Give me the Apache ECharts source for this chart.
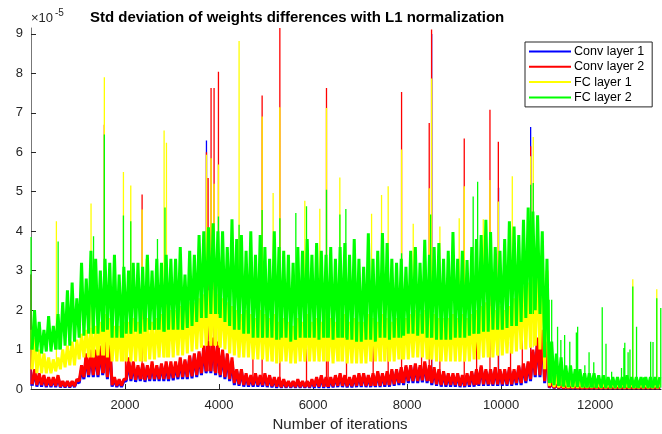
<!DOCTYPE html>
<html>
<head>
<meta charset="utf-8">
<script src="https://cdn.jsdelivr.net/npm/echarts@6/dist/echarts.min.js"></script>
<style>html,body{margin:0;padding:0;background:#fff}#c{width:662px;height:434px}</style>
</head>
<body>
<div id="c"></div>
<script>
// ---- data, values in units of 1e-5 ----
// dense band per 100-iteration bin: upper (hi) and lower (lo) extent
const binStep = 100;
const xTicks = [2000, 4000, 6000, 8000, 10000, 12000];
const yTicks = [0, 1, 2, 3, 4, 5, 6, 7, 8, 9];
const seriesNames = ['Conv layer 1', 'Conv layer 2', 'FC layer 1', 'FC layer 2'];

const conv1Hi = [0.45,0.35,0.3,0.25,0.25,0.3,0.18,0.18,0.18,0.2, 0.5,0.8,0.9,0.9,1.0,1.2,1.1,0.25,0.2,0.2,
  0.7,0.6,0.55,0.6,0.55,0.6,0.55,0.6,0.6,0.6, 0.6,0.7,0.7,0.8,0.85,0.9,1.0,1.2,1.2,1.1,
  0.9,0.8,0.7,0.45,0.45,0.35,0.3,0.35,0.3,0.35, 0.3,0.25,0.25,0.2,0.18,0.18,0.2,0.18,0.18,0.2,
  0.25,0.3,0.25,0.25,0.3,0.35,0.3,0.25,0.3,0.35, 0.35,0.3,0.35,0.4,0.35,0.4,0.45,0.45,0.5,0.55,
  0.55,0.6,0.55,0.65,0.55,0.5,0.45,0.4,0.35,0.35, 0.35,0.3,0.35,0.4,0.45,0.55,0.45,0.45,0.5,0.45,
  0.45,0.5,0.45,0.55,0.6,0.65,0.95,1.25,1.45,1.1, 0.15,0.1,0.08,0.07,0.06,0.06,0.05,0.05,0.05,0.05,
  0.05,0.05,0.05,0.05,0.05,0.05,0.05,0.05,0.05,0.05,0.05,0.05,0.05,0.05];
const conv1Lo = [0.08,0.06,0.06,0.05,0.05,0.05,0.04,0.04,0.04,0.05, 0.15,0.25,0.3,0.3,0.3,0.35,0.25,0.06,0.05,0.05,
  0.2,0.2,0.18,0.2,0.18,0.2,0.2,0.2,0.2,0.2, 0.22,0.25,0.25,0.25,0.27,0.3,0.35,0.4,0.4,0.35,
  0.3,0.25,0.2,0.1,0.08,0.06,0.06,0.06,0.06,0.06, 0.05,0.04,0.03,0.03,0.03,0.03,0.03,0.03,0.03,0.03,
  0.03,0.03,0.03,0.03,0.04,0.05,0.05,0.04,0.04,0.05, 0.05,0.05,0.05,0.05,0.05,0.06,0.06,0.08,0.1,0.1,
  0.15,0.15,0.15,0.17,0.15,0.1,0.08,0.06,0.06,0.06, 0.06,0.05,0.05,0.06,0.06,0.08,0.08,0.08,0.08,0.08,
  0.08,0.08,0.08,0.1,0.1,0.15,0.2,0.3,0.3,0.15, 0.03,0.02,0.02,0.02,0.02,0.02,0.02,0.02,0.02,0.02,
  0.02,0.02,0.02,0.02,0.02,0.02,0.02,0.02,0.02,0.02,0.02,0.02,0.02,0.02];

const conv2Hi = [0.5,0.4,0.35,0.3,0.3,0.35,0.2,0.2,0.2,0.25, 0.6,0.9,1.0,1.0,1.1,1.3,1.2,0.3,0.25,0.25,
  0.8,0.7,0.6,0.65,0.6,0.7,0.6,0.65,0.7,0.7, 0.7,0.8,0.75,0.85,0.9,0.95,1.1,1.2,1.3,1.2,
  1.0,0.9,0.8,0.5,0.5,0.4,0.35,0.4,0.35,0.4, 0.35,0.3,0.3,0.25,0.2,0.2,0.25,0.2,0.2,0.25,
  0.3,0.35,0.3,0.3,0.35,0.4,0.35,0.3,0.35,0.4, 0.4,0.35,0.4,0.45,0.4,0.45,0.5,0.5,0.55,0.6,
  0.6,0.65,0.6,0.7,0.6,0.55,0.5,0.45,0.4,0.4, 0.4,0.35,0.4,0.45,0.5,0.6,0.5,0.5,0.55,0.5,
  0.5,0.55,0.5,0.6,0.65,0.7,1.0,1.3,1.5,1.2, 0.2,0.12,0.1,0.08,0.07,0.07,0.06,0.06,0.06,0.06,
  0.05,0.05,0.05,0.05,0.05,0.05,0.05,0.05,0.05,0.05,0.05,0.05,0.05,0.05];
const conv2Lo = [0.12,0.1,0.1,0.08,0.08,0.08,0.06,0.06,0.06,0.07, 0.2,0.3,0.35,0.35,0.35,0.4,0.3,0.1,0.08,0.08,
  0.25,0.25,0.23,0.25,0.23,0.25,0.25,0.25,0.25,0.25, 0.28,0.3,0.3,0.3,0.32,0.35,0.4,0.45,0.45,0.4,
  0.35,0.3,0.25,0.15,0.12,0.1,0.1,0.1,0.1,0.1, 0.08,0.07,0.06,0.05,0.05,0.05,0.05,0.05,0.05,0.05,
  0.06,0.06,0.06,0.06,0.07,0.08,0.08,0.07,0.07,0.08, 0.08,0.08,0.08,0.08,0.08,0.1,0.1,0.12,0.15,0.15,
  0.2,0.2,0.2,0.22,0.2,0.15,0.12,0.1,0.1,0.1, 0.1,0.08,0.08,0.1,0.1,0.12,0.12,0.12,0.12,0.12,
  0.12,0.12,0.12,0.15,0.15,0.2,0.25,0.35,0.35,0.2, 0.04,0.03,0.03,0.02,0.02,0.02,0.02,0.02,0.02,0.02,
  0.02,0.02,0.02,0.02,0.02,0.02,0.02,0.02,0.02,0.02,0.02,0.02,0.02,0.02];

const fc1Hi = [1.3,1.0,0.9,0.8,0.75,0.8,1.0,1.1,1.2,1.25, 1.4,1.5,1.55,1.6,1.7,1.9,1.8,1.6,1.6,1.7,
  1.7,1.8,1.7,1.75,1.8,1.7,1.8,1.9,1.9,2.0, 2.0,2.1,2.0,2.2,2.2,2.3,2.4,2.5,2.5,2.4,
  2.3,2.2,2.1,2.0,1.9,2.0,1.9,1.8,2.0,1.9, 1.8,1.9,1.7,1.8,1.7,1.6,1.8,1.7,1.9,1.7,
  1.8,1.7,1.9,1.8,1.7,1.8,1.9,1.7,1.8,1.7, 1.7,1.9,1.8,1.7,1.9,1.8,1.7,1.8,1.9,1.8,
  1.9,2.0,1.9,2.0,1.8,1.9,1.8,1.8,1.8,1.9, 1.8,1.9,1.8,1.9,2.0,2.1,2.2,2.1,2.0,2.1,
  2.0,2.1,2.3,2.5,2.6,2.7,2.8,3.0,3.4,3.0, 0.6,0.35,0.3,0.25,0.22,0.2,0.2,0.18,0.18,0.18,
  0.15,0.15,0.15,0.15,0.15,0.15,0.15,0.15,0.15,0.15,0.15,0.15,0.15,0.15];
const fc1Lo = [0.5,0.4,0.4,0.4,0.4,0.45,0.5,0.55,0.6,0.6, 0.75,0.8,0.8,0.8,0.85,0.85,0.8,0.7,0.7,0.7,
  0.7,0.7,0.7,0.7,0.7,0.75,0.75,0.8,0.8,0.8, 0.8,0.85,0.85,0.9,0.95,1.0,1.05,1.1,1.1,1.1,
  1.05,1.0,0.9,0.85,0.8,0.8,0.8,0.75,0.75,0.75, 0.7,0.7,0.65,0.7,0.7,0.65,0.65,0.7,0.7,0.7,
  0.7,0.7,0.7,0.7,0.65,0.7,0.7,0.65,0.65,0.65, 0.65,0.65,0.7,0.7,0.7,0.7,0.7,0.7,0.75,0.75,
  0.75,0.8,0.8,0.8,0.75,0.75,0.7,0.7,0.7,0.7, 0.7,0.7,0.7,0.7,0.75,0.75,0.8,0.8,0.8,0.85,
  0.85,0.9,0.9,0.95,1.0,1.0,1.05,1.1,1.0,0.5, 0.08,0.05,0.04,0.04,0.03,0.03,0.03,0.03,0.03,0.03,
  0.03,0.03,0.03,0.03,0.03,0.03,0.03,0.03,0.03,0.03,0.03,0.03,0.03,0.03];

const fc2Hi = [2.0,1.7,1.5,1.85,1.6,1.9,2.2,2.5,2.7,2.3, 3.2,2.8,3.5,3.3,3.0,3.3,3.2,3.4,2.9,3.1,
  3.0,3.2,3.2,3.1,3.4,3.0,3.3,3.2,3.4,3.3, 3.3,3.6,2.9,3.5,3.4,3.9,4.0,4.1,4.2,4.0,
  4.0,3.6,4.3,3.8,3.9,3.5,4.0,3.4,3.9,3.6, 3.3,4.0,3.6,3.5,3.4,3.2,3.6,3.5,3.8,3.4,
  3.7,3.5,3.4,3.6,3.3,3.6,3.7,3.4,3.8,3.3, 3.1,3.95,3.3,3.5,3.95,3.7,3.3,3.2,3.3,3.1,
  3.5,3.6,3.2,3.78,3.4,3.6,3.7,3.3,3.5,3.98, 3.3,3.5,3.27,3.6,3.8,3.9,4.29,3.98,3.6,3.5,
  3.8,4.25,4.12,3.9,4.29,4.6,4.5,4.4,4.0,3.3, 1.2,0.9,0.8,0.6,0.6,0.5,0.5,0.4,0.4,0.4,
  0.35,0.35,0.3,0.3,0.3,0.3,0.35,0.3,0.3,0.3,0.3,0.3,0.3,0.3];
const fc2Lo = [1.0,0.95,0.9,0.95,0.95,1.0,1.0,1.1,1.1,1.2, 1.3,1.35,1.4,1.4,1.4,1.45,1.5,1.3,1.3,1.3,
  1.4,1.4,1.45,1.4,1.45,1.5,1.5,1.5,1.45,1.5, 1.5,1.5,1.5,1.55,1.6,1.7,1.8,1.8,1.9,1.9,
  1.8,1.7,1.6,1.5,1.5,1.4,1.4,1.3,1.3,1.3, 1.3,1.3,1.25,1.3,1.3,1.2,1.25,1.3,1.3,1.3,
  1.3,1.25,1.3,1.3,1.25,1.3,1.3,1.25,1.25,1.2, 1.2,1.25,1.25,1.2,1.3,1.3,1.25,1.3,1.3,1.35,
  1.4,1.4,1.35,1.4,1.3,1.3,1.25,1.25,1.25,1.25, 1.3,1.3,1.3,1.35,1.4,1.4,1.45,1.45,1.5,1.5,
  1.5,1.55,1.6,1.6,1.7,1.8,1.9,2.0,1.9,0.8, 0.15,0.1,0.08,0.06,0.05,0.05,0.05,0.04,0.04,0.04,
  0.03,0.03,0.03,0.03,0.03,0.03,0.03,0.03,0.03,0.03,0.03,0.03,0.03,0.03];

// isolated spikes: [iteration, value]
const conv1Spikes = [[1,2.9],[3732,6.3],[8522,9.0],[9945,5.1],[10627,6.64]];
const conv2Spikes = [[1,2.9],[1560,6.7],[2010,1.1],[2363,4.93],[3732,6.0],[3767,5.35],[3830,7.63],[3894,7.63],[3987,8.04],
  [4720,1.33],[4916,7.44],[5293,9.15],[5860,1.24],[6285,7.63],[6320,1.41],[6711,1.07],[7278,1.16],[7597,1.16],
  [7882,7.53],[8307,1.16],[8470,6.74],[8520,9.11],[8697,1.0],[9215,6.35],[9478,1.96],[9762,7.08],[9940,6.27],
  [10200,1.2],[10450,1.3],[10627,6.15]];
const fc1Spikes = [[1,1.5],[540,4.25],[1277,4.7],[1560,7.9],[1966,5.5],[2122,5.16],[2363,4.55],[2450,3.3],[2831,6.55],[2881,6.24],
  [3732,5.94],[3830,5.85],[3894,5.2],[3987,5.69],[4426,8.82],[4916,6.91],[5150,4.97],[5293,7.14],[5824,4.77],
  [6143,4.57],[6285,7.12],[6569,5.36],[7244,4.44],[7456,4.92],[7597,5.14],[7882,6.07],[8130,4.19],[8470,5.09],
  [8520,7.87],[8697,4.12],[9108,4.33],[9215,5.14],[9620,4.3],[9762,5.3],[9940,4.75],[10237,5.39],[10627,5.9],
  [10683,6.39],[12800,2.78],[13310,2.53]];
const fc2Spikes = [[1,3.85],[577,3.74],[1330,3.87],[1560,6.45],[1966,4.4],[2122,4.25],[2690,3.8],[2850,4.6],[3987,4.37],
  [4426,4.16],[4916,4.54],[5293,4.33],[5633,4.46],[5860,4.63],[6285,5.05],[6570,4.42],[6697,4.56],[7882,3.44],
  [8500,4.42],[9405,4.88],[9500,5.25],[10627,5.18],[10683,5.22],
  [11020,2.26],[11075,2.26],[11200,1.58],[11270,1.24],[11350,1.37],[11460,1.2],[11600,1.43],[11627,1.58],
  [11780,0.6],[11870,0.93],[11970,0.68],[12150,2.07],[12230,1.15],[12350,0.44],[12560,0.53],[12610,1.04],
  [12630,1.17],[12700,0.93],[12740,1.0],[12800,2.6],[12880,1.58],[13025,0.3],[13180,1.2],[13230,1.19],
  [13310,2.3],[13395,2.05]];

// ---- build point lists from the arrays ----
function bandPoints(hi, lo) {
  const pts = [];
  for (let k = 0; k < hi.length; k++) {
    pts.push([k * binStep + binStep * 0.25, lo[k]]);
    pts.push([k * binStep + binStep * 0.75, hi[k]]);
  }
  return pts;
}
// each spike is a thin vertical stroke from the band's lower edge up to its value
function spikePoints(spikes, lo) {
  const pts = [];
  spikes.forEach(s => {
    const k = Math.min(lo.length - 1, Math.floor(s[0] / binStep));
    pts.push([s[0], lo[k]]);
    pts.push([s[0], s[1]]);
    pts.push(null);
  });
  return pts;
}

const colors = ['#0000ff', '#ff0000', '#ffff00', '#00ff00'];
const bands = [
  bandPoints(conv1Hi, conv1Lo), bandPoints(conv2Hi, conv2Lo),
  bandPoints(fc1Hi, fc1Lo), bandPoints(fc2Hi, fc2Lo)
];
const spikeSets = [
  spikePoints(conv1Spikes, conv1Lo), spikePoints(conv2Spikes, conv2Lo),
  spikePoints(fc1Spikes, fc1Lo), spikePoints(fc2Spikes, fc2Lo)
];

const axisColor = '#262626';
const font = 'Liberation Sans, Arial, sans-serif';
const series = [];
seriesNames.forEach((n, i) => {
  series.push({
    name: n, type: 'line', data: bands[i], showSymbol: false, symbol: 'none',
    color: colors[i], lineStyle: { width: 3, color: colors[i], join: 'bevel' }, itemStyle: { color: colors[i] },
    z: 2 + i, silent: true, clip: true
  });
  series.push({
    name: n, type: 'line', data: spikeSets[i], showSymbol: false, symbol: 'none', connectNulls: false,
    color: colors[i], lineStyle: { width: 1.3, color: colors[i] }, itemStyle: { color: colors[i] },
    z: 2 + i, silent: true, clip: true
  });
});

const chart = echarts.init(document.getElementById('c'), null, { renderer: 'canvas' });
chart.setOption({
  animation: false,
  backgroundColor: '#ffffff',
  title: {
    text: 'Std deviation of weights differences with L1 normalization',
    left: 85, top: 5,
    textStyle: { fontFamily: font, fontSize: 15, fontWeight: 'bold', color: '#000' }
  },
  graphic: [
    { type: 'text', left: 31, top: 12, style: { text: '×10', fontFamily: font, fontSize: 13, fill: axisColor } },
    { type: 'text', left: 55, top: 8, style: { text: '-5', fontFamily: font, fontSize: 10, fill: axisColor } }
  ],
  legend: {
    orient: 'vertical',
    left: 525, top: 42,
    padding: [3, 8, 3, 4],
    itemGap: 2.3,
    itemWidth: 42, itemHeight: 2,
    backgroundColor: '#fff',
    borderColor: axisColor, borderWidth: 1,
    textStyle: { fontFamily: font, fontSize: 12.5, color: '#000', padding: [0, 0, 0, -2] },
    data: seriesNames.map(n => ({ name: n, icon: 'rect' }))
  },
  grid: { left: 31, right: 1, top: 28, bottom: 45, containLabel: false, outerBoundsMode: 'none' },
  xAxis: {
    type: 'value', min: 0, max: 13400,
    name: 'Number of iterations', nameLocation: 'middle', nameGap: 28,
    nameTextStyle: { fontFamily: font, fontSize: 15, color: axisColor, padding: [0, 12, 0, 0] },
    axisLine: { show: true, lineStyle: { color: axisColor, width: 1 } },
    axisTick: { show: true, inside: true, length: 5, customValues: xTicks, lineStyle: { color: axisColor } },
    axisLabel: { customValues: xTicks, margin: 10, fontFamily: font, fontSize: 13, color: axisColor, formatter: v => String(v) },
    splitLine: { show: false }
  },
  yAxis: {
    type: 'value', min: 0, max: 9.15,
    axisLine: { show: true, lineStyle: { color: '#777', width: 1 } },
    axisTick: { show: true, inside: true, length: 5, customValues: yTicks, lineStyle: { color: axisColor } },
    axisLabel: { customValues: yTicks, margin: 8, fontFamily: font, fontSize: 13, color: axisColor, formatter: v => String(v) },
    splitLine: { show: false }
  },
  series: series
});
</script>
</body>
</html>
